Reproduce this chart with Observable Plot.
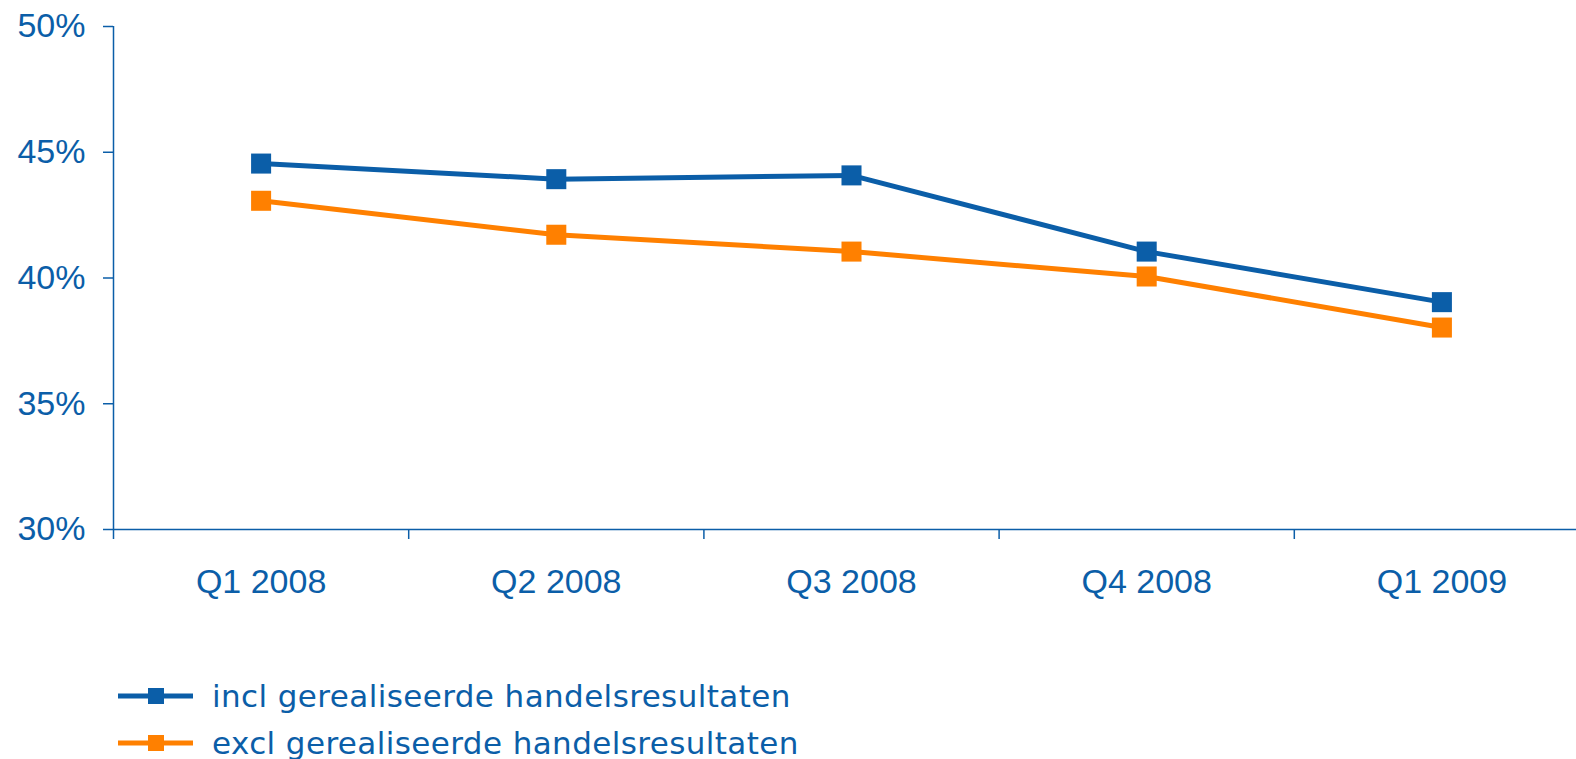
<!DOCTYPE html>
<html>
<head>
<meta charset="utf-8">
<script src="https://cdn.jsdelivr.net/npm/d3@7"></script>
<script src="https://cdn.jsdelivr.net/npm/@observablehq/plot@0.6"></script>
<style>
  html, body { margin: 0; padding: 0; background: #fff; overflow: hidden; }
  #chart { position: absolute; left: 0; top: 0; }
  #legend { position: absolute; left: 118px; top: 672px; font-family: "DejaVu Sans", Verdana, sans-serif; font-size: 31px; letter-spacing: 0.4px; color: #0b5ea8; }
  .item { display: flex; align-items: center; height: 47px; }
  .item svg { margin-right: 19px; }
</style>
</head>
<body>
<div id="chart"></div>
<div id="legend"></div>
<script>
const categories = ["Q1 2008", "Q2 2008", "Q3 2008", "Q4 2008", "Q1 2009"];
const seriesNames = ["incl gerealiseerde handelsresultaten", "excl gerealiseerde handelsresultaten"];
const inclValues = [44.55, 43.93, 44.08, 41.05, 39.04];
const exclValues = [43.07, 41.72, 41.05, 40.06, 38.03];
const yTicks = [30, 35, 40, 45, 50];
const colors = ["#0b5ea8", "#ff8000"];

const data = [];
categories.forEach((c, i) => {
  data.push({ i, cat: c, series: seriesNames[0], value: inclValues[i] });
  data.push({ i, cat: c, series: seriesNames[1], value: exclValues[i] });
});

const blue = colors[0];
const width = 1576, height = 620;
const chart = Plot.plot({
  width, height,
  marginLeft: 113, marginTop: 26, marginBottom: height - 529, marginRight: 0,
  x: { domain: [-0.5, 4.5], range: [113, 1589], axis: null },
  y: { domain: [30, 50], range: [529, 26], axis: null },
  color: { domain: seriesNames, range: colors },
  style: { fontFamily: "'Liberation Sans', Arial, sans-serif", background: "#fff", overflow: "visible" },
  marks: [
    Plot.axisY({ ticks: yTicks, tickFormat: d => d + "%", label: null, tickSize: 10, tickPadding: 18, fontSize: 34, color: blue, stroke: blue, strokeWidth: 1.5, strokeOpacity: 1 }),
    Plot.axisX({ ticks: d3.range(-0.5, 4.6, 1), tickFormat: () => "", label: null, tickSize: 10, stroke: blue, strokeWidth: 1.5, strokeOpacity: 1 }),
    Plot.axisX({ ticks: d3.range(0, 5), tickFormat: i => categories[i], label: null, tickSize: 0, tickPadding: 39, fontSize: 34, color: blue }),
    Plot.ruleX([-0.5], { y1: 30, y2: 50, stroke: blue, strokeWidth: 1.5 }),
    Plot.ruleY([30], { x1: -0.5, x2: 4.6, stroke: blue, strokeWidth: 1.5 }),
    Plot.line(data, { x: "i", y: "value", z: "series", stroke: "series", strokeWidth: 5 }),
    Plot.dot(data, { x: "i", y: "value", fill: "series", symbol: "square", r: 11.3 })
  ]
});
document.getElementById("chart").appendChild(chart);

const legend = document.getElementById("legend");
seriesNames.forEach((name, k) => {
  const item = document.createElement("div");
  item.className = "item";
  item.innerHTML = `<svg width="75" height="20"><line x1="0" x2="75" y1="10" y2="10" stroke="${colors[k]}" stroke-width="5"/><rect x="30" y="2" width="16" height="16" fill="${colors[k]}"/></svg><span>${name}</span>`;
  legend.appendChild(item);
});
</script>
</body>
</html>
